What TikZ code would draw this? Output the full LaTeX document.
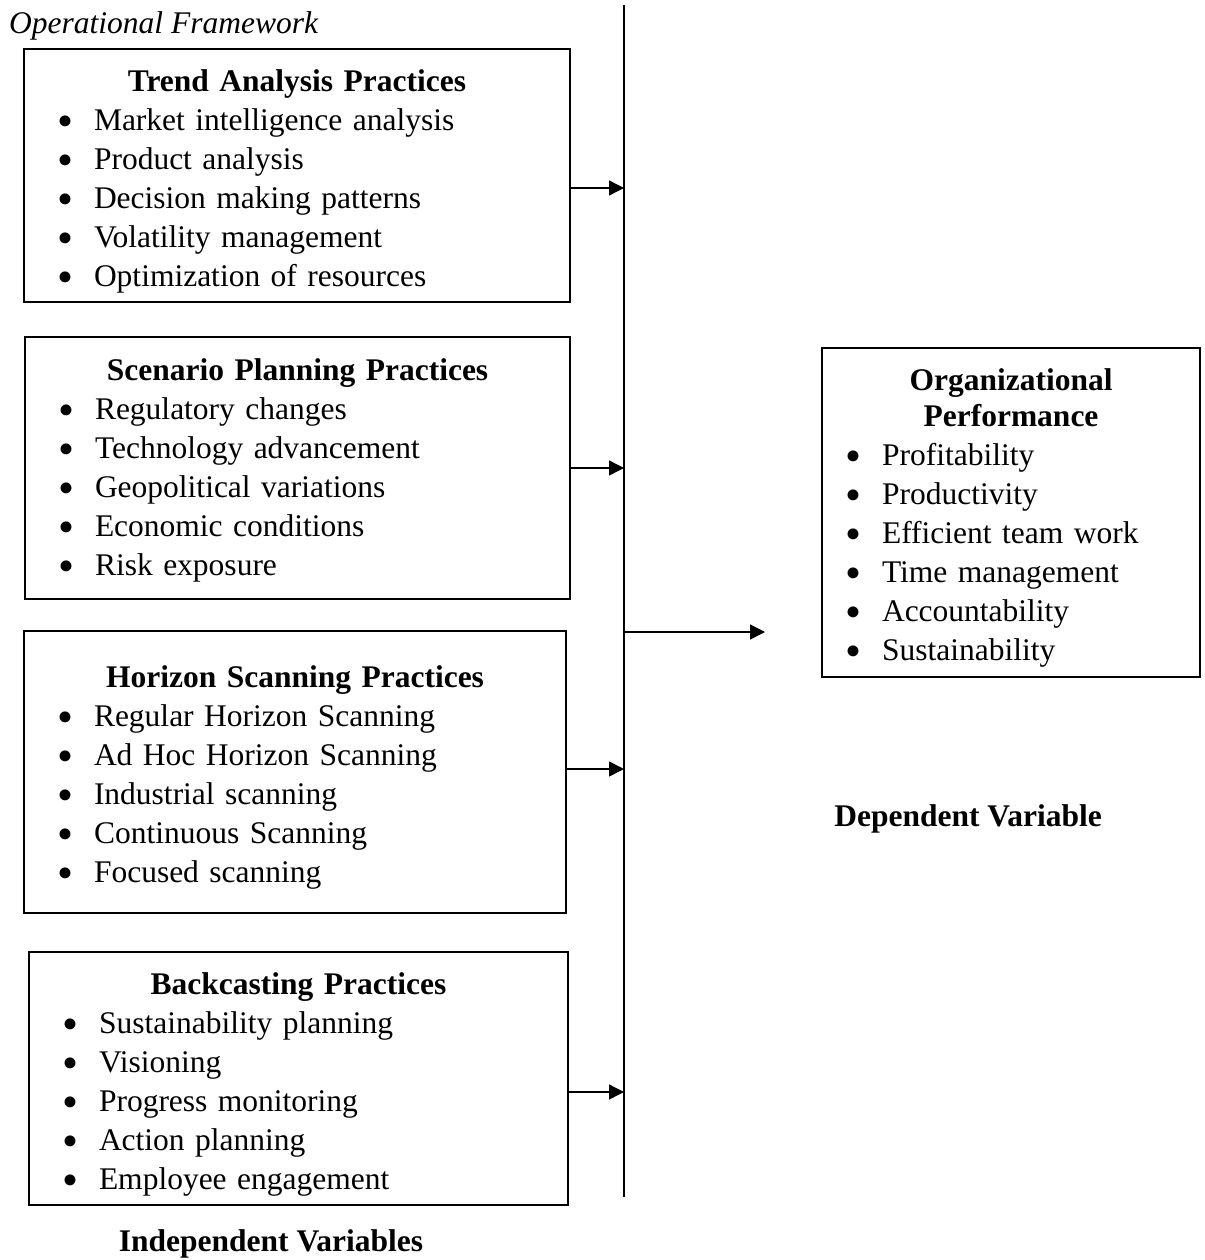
\documentclass[tikz,border=0pt]{standalone}
\usepackage{fontspec}
\setmainfont{Liberation Serif}
\usepackage{graphicx}
\usepackage{tikz}
\usetikzlibrary{arrows.meta}
\setlength{\parindent}{0pt}
\newcommand{\ptitle}[1]{\par\centering\bfseries #1\par}
\newcommand{\pitem}[2][33pt]{\par\raggedright\normalfont\hspace*{#1}\makebox[37pt][l]{\smash{\raisebox{-0.19em}{\scalebox{1.45}{\textbullet}}}}#2\par}
\newcommand{\ptail}[1]{\par\nointerlineskip\hbox{\rule{0pt}{#1}}}
\tikzset{
  pbox/.style={draw, line width=2pt, inner sep=0pt, align=left, text width=#1},
  spine/.style={line width=1.4pt},
  flow/.style={-{Triangle[length=15pt,width=15pt]}, line width=1.4pt},
  lbl/.style={inner sep=0pt},
}
\begin{document}
\begin{tikzpicture}[x=1pt, y=1pt, font=\fontsize{31.5}{39}\selectfont]
\useasboundingbox (0,0) rectangle (1204,-1260);
\node[lbl, anchor=base west, font=\fontsize{31.5}{39}\selectfont\itshape] (frame) at (9,-34) {Operational Framework};
% independent variables
\node[pbox=546pt, minimum height=253pt] (trend) at (297,-175.5) {\ptitle{Trend Analysis Practices}%
  \pitem{Market intelligence analysis}\pitem{Product analysis}\pitem{Decision making patterns}%
  \pitem{Volatility management}\pitem{Optimization of resources}\ptail{6pt}};
\node[pbox=545pt, minimum height=262pt] (scen) at (297.5,-468) {\ptitle{Scenario Planning Practices}%
  \pitem{Regulatory changes}\pitem{Technology advancement}\pitem{Geopolitical variations}%
  \pitem{Economic conditions}\pitem{Risk exposure}\ptail{12pt}};
\node[pbox=542pt, minimum height=282pt] (horiz) at (295,-772) {\ptitle{Horizon Scanning Practices}%
  \pitem{Regular Horizon Scanning}\pitem{Ad Hoc Horizon Scanning}\pitem{Industrial scanning}%
  \pitem{Continuous Scanning}\pitem{Focused scanning}\ptail{6pt}};
\node[pbox=539pt, minimum height=253pt] (back) at (298.5,-1078.5) {\ptitle{Backcasting Practices}%
  \pitem{Sustainability planning}\pitem{Visioning}\pitem{Progress monitoring}%
  \pitem{Action planning}\pitem{Employee engagement}\ptail{5pt}};
\node[lbl, font=\fontsize{31.5}{39}\selectfont\bfseries] (indep) at (271,-1244) {Independent Variables};
% dependent variable
\node[pbox=378pt, minimum height=329pt] (perf) at (1011,-512.5) {\ptitle{Organizational\\[-3pt]Performance}%
  \pitem[23pt]{Profitability}\pitem[23pt]{Productivity}\pitem[23pt]{Efficient team work}%
  \pitem[23pt]{Time management}\pitem[23pt]{Accountability}\pitem[23pt]{Sustainability}\ptail{7pt}};
\node[lbl, font=\fontsize{31.5}{39}\selectfont\bfseries] (dep) at (968,-819) {Dependent Variable};
% spine and arrows
\coordinate (top) at (624,-5);
\coordinate (bot) at (624,-1197);
\draw[spine] (top) -- (bot);
\coordinate (a1) at ([yshift=-12.5pt]trend.east);
\coordinate (a2) at (scen.east);
\coordinate (a3) at ([yshift=3pt]horiz.east);
\coordinate (a4) at ([yshift=-13.5pt]back.east);
\foreach \a in {a1,a2,a3,a4}
  \draw[flow] (\a) -- (\a -| top);
\coordinate (join) at (624,-632);
\coordinate (tip) at (765,-632);
\draw[flow] (join) -- (tip);
\end{tikzpicture}
\end{document}
